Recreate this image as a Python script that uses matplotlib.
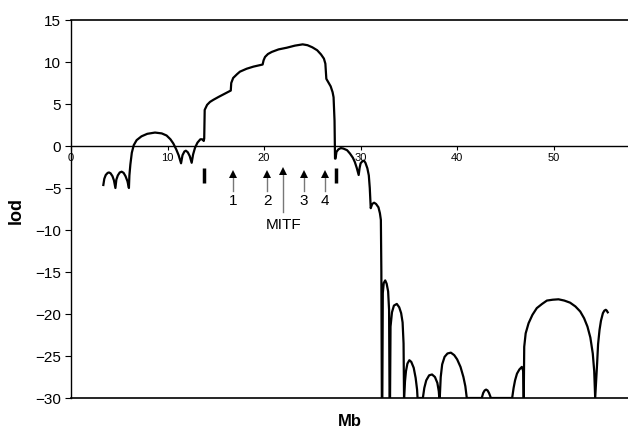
import matplotlib
matplotlib.use("Agg")
import matplotlib.pyplot as plt

plt.rcParams['font.family'] = ['Liberation Sans', 'DejaVu Sans']

# lod score along the chromosome (Mb)
mb = [3.35, 3.45, 3.6, 3.8, 3.94, 4.1, 4.3, 4.45, 4.6,
      4.7, 4.85, 5.05, 5.25, 5.45, 5.65, 5.85, 6.0,
      6.05, 6.15, 6.3, 6.5, 6.8, 7.3, 7.9, 8.7, 9.4, 9.9, 10.3, 10.6,
      10.9, 11.15, 11.4, 11.55, 11.75, 11.9, 12.1, 12.3, 12.5,
      12.65, 12.85, 13.1, 13.4, 13.6, 13.75, 13.8, 13.85,
      14.1, 14.4, 14.75, 15.3, 15.8, 16.2, 16.55, 16.6, 16.8, 17.2, 17.5,
      18.2, 18.9, 19.85, 19.95, 20.1, 20.4, 20.8, 21.5, 22.35, 23.2, 24.0,
      24.5, 25.0, 25.5, 25.9, 26.2, 26.35, 26.45, 26.7, 26.9, 27.1, 27.2,
      27.3, 27.35,
      27.4, 27.5, 27.7, 27.95, 28.2, 28.6, 28.9, 29.2, 29.4, 29.6, 29.8,
      29.9, 30.0, 30.2, 30.35, 30.5, 30.7, 30.85, 30.95, 31.05,
      31.2, 31.4, 31.6, 31.85, 32.0, 32.1, 32.15, 32.2,
      32.25, 32.3, 32.4, 32.55, 32.7, 32.85, 32.95, 33.0,
      33.05, 33.1, 33.25, 33.45, 33.75, 34.0, 34.2, 34.35, 34.45, 34.5,
      34.6, 34.7, 34.85, 35.05, 35.25, 35.5, 35.7, 35.85, 35.9,
      36.45, 36.6, 36.8, 37.1, 37.4, 37.7, 37.95, 38.1, 38.15,
      38.2, 38.3, 38.45, 38.7, 39.0, 39.35, 39.7, 40.0, 40.35, 40.65,
      40.85, 41.0,
      42.55, 42.7, 42.85, 43.0, 43.15, 43.3, 43.5,
      45.7, 45.85, 46.0, 46.2, 46.45, 46.7, 46.85, 46.9,
      46.95, 47.1, 47.4, 47.8, 48.25, 48.8, 49.3, 49.9, 50.5, 51.1,
      51.7, 52.25, 52.75, 53.15, 53.5, 53.8, 54.05, 54.2, 54.3,
      54.35, 54.5, 54.6, 54.75, 54.9, 55.1, 55.25, 55.4, 55.5, 55.6]
lod = [-4.64, -3.9, -3.45, -3.2, -3.15, -3.25, -3.6, -4.1, -5.0,
       -4.0, -3.5, -3.15, -3.06, -3.2, -3.6, -4.2, -5.0,
       -3.5, -2.2, -0.8, 0.1, 0.7, 1.15, 1.45, 1.6, 1.5, 1.25, 0.8, 0.3,
       -0.4, -1.1, -2.06, -1.1, -0.65, -0.56, -0.75, -1.2, -2.0,
       -1.0, -0.2, 0.4, 0.8, 0.8, 0.6, 0.9, 4.3,
       4.9, 5.25, 5.5, 5.85, 6.15, 6.4, 6.6, 7.5, 8.1, 8.55, 8.85,
       9.2, 9.45, 9.7, 10.2, 10.6, 10.95, 11.2, 11.5, 11.7, 11.95, 12.1,
       12.0, 11.75, 11.4, 10.9, 10.4, 9.8, 8.0, 7.5, 7.1, 6.4, 5.8,
       3.0, -1.5,
       -1.5, -0.7, -0.4, -0.25, -0.3, -0.5, -0.9, -1.4, -1.9, -2.6, -3.45,
       -2.6, -2.06, -1.8, -1.75, -2.0, -2.65, -3.5, -5.0, -7.4,
       -6.9, -6.75, -6.9, -7.3, -8.0, -8.8, -15.0, -30,
       -30, -17.5, -16.3, -16.0, -16.4, -17.3, -19.5, -30,
       -30, -21.5, -19.8, -19.0, -18.8, -19.2, -19.9, -21.0, -23.5, -30,
       -28.0, -26.8, -25.9, -25.5, -25.7, -26.4, -27.6, -29.0, -30,
       -30, -28.8, -27.9, -27.3, -27.2, -27.5, -28.2, -29.2, -30,
       -30, -27.5, -26.0, -25.1, -24.7, -24.6, -24.9, -25.4, -26.3, -27.5,
       -28.6, -30,
       -30, -29.4, -29.1, -29.0, -29.1, -29.4, -30,
       -30, -28.8, -27.9, -27.1, -26.6, -26.3, -26.8, -30,
       -23.9, -22.3, -21.1, -20.1, -19.3, -18.8, -18.4, -18.3, -18.25, -18.4,
       -18.65, -19.1, -19.7, -20.5, -21.5, -22.8, -24.7, -26.8, -30,
       -29.0, -25.9, -23.6, -21.9, -20.8, -19.9, -19.6, -19.5, -19.6, -19.8]

# flanking marker positions and labelled arrows
flank_mb = [13.8, 27.5]
arrow_mb = [16.75, 20.35, 24.15, 26.3]
arrow_labels = ['1', '2', '3', '4']
mitf_mb = 22.0

fig = plt.figure(figsize=(6.28, 4.29), dpi=100)
ax = fig.add_axes([71 / 628, 31 / 429, 557 / 628, 378 / 429])

ax.plot(mb, lod, color='black', lw=1.6, solid_joinstyle='round')

for x in flank_mb:
    ax.plot([x, x], [-2.6, -4.4], color='black', lw=2.5, solid_capstyle='butt')

for x, lab in zip(arrow_mb, arrow_labels):
    ax.plot([x, x], [-5.4, -3.2], color='#777777', lw=1)
    ax.plot(x, -3.3, marker='^', color='black', ms=6, mew=0)
    ax.text(x, -6.6, lab, ha='center', va='center', fontsize=11)

ax.plot([mitf_mb, mitf_mb], [-7.8, -2.9], color='#777777', lw=1)
ax.plot(mitf_mb, -3.0, marker='^', color='black', ms=6, mew=0)
ax.text(mitf_mb, -9.4, 'MITF', ha='center', va='center', fontsize=11)

ax.set_xlim(0, 57.7)
ax.set_ylim(-30, 15)
ax.axhline(-30, color='black', lw=1.2, clip_on=False)

ax.spines['right'].set_visible(False)
ax.spines['bottom'].set_position(('data', 0))
ax.spines['top'].set_linewidth(1.2)
ax.spines['left'].set_linewidth(1.0)
ax.spines['bottom'].set_linewidth(1.0)

ax.set_yticks(range(-30, 16, 5))
ax.set_xticks(range(0, 51, 10))
ax.tick_params(axis='y', direction='out', length=4, labelsize=11, pad=3)
ax.tick_params(axis='x', direction='out', length=3, labelsize=8, pad=2)

fig.text(350 / 628, 1 - 421.7 / 429, 'Mb', ha='center', va='center',
         fontsize=12, fontweight='bold')
fig.text(16.7 / 628, 1 - 210 / 429, 'lod', ha='center', va='center',
         fontsize=13, fontweight='bold', rotation=90)

fig.savefig('out.png', dpi=100)
